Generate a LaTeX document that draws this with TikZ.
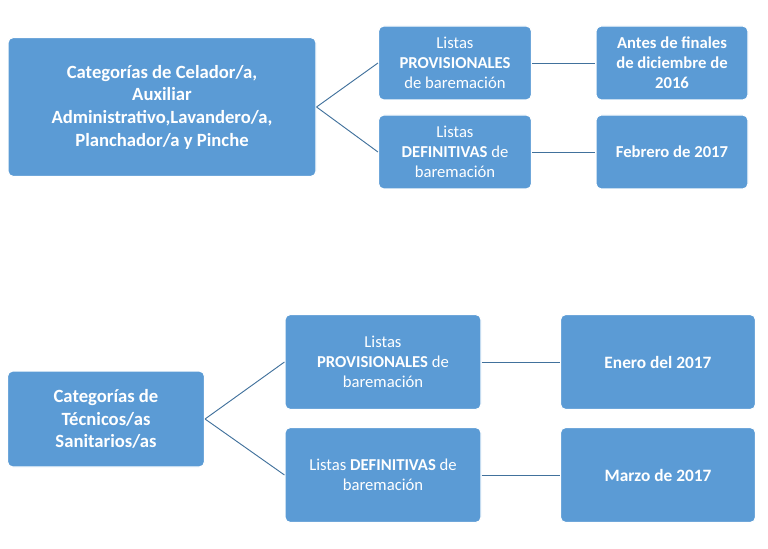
\documentclass[tikz,border=0pt]{standalone}
\usepackage{fontspec}
\setmainfont{Carlito}
\definecolor{boxblue}{HTML}{5B9BD5}
\definecolor{lineblue}{HTML}{41719C}
\begin{document}
\begin{tikzpicture}[x=0.75pt,y=-0.75pt,
    box/.style={draw=white,line width=0.8pt,fill=boxblue,rounded corners=4pt,text=white,align=center,inner sep=2pt},
    big/.style={box,font=\fontsize{14}{17}\selectfont\bfseries},
    small/.style={box,font=\fontsize{12.5}{15}\selectfont},
    link/.style={draw=lineblue,line width=0.7pt}]
  \useasboundingbox (0,0) rectangle (768,549);
  % top group
  \node[big,minimum width=308*0.75pt,minimum height=139*0.75pt] (celador) at (162,107)
    {Categorías de Celador/a,\\Auxiliar\\Administrativo,Lavandero/a,\\Planchador/a y Pinche};
  \node[small,minimum width=153*0.75pt,minimum height=74*0.75pt] (provA) at (455,63)
    {Listas\\\textbf{PROVISIONALES}\\de baremación};
  \node[small,minimum width=153*0.75pt,minimum height=74*0.75pt] (defA) at (455,152)
    {Listas\\\textbf{DEFINITIVAS} de\\baremación};
  \node[small,font=\fontsize{12.5}{15}\selectfont\bfseries,minimum width=152*0.75pt,minimum height=74*0.75pt] (fechaA) at (672,63)
    {Antes de finales\\de diciembre de\\2016};
  \node[small,font=\fontsize{12.5}{15}\selectfont\bfseries,minimum width=152*0.75pt,minimum height=74*0.75pt] (fechaB) at (672,152)
    {Febrero de 2017};
  % bottom group
  \node[big,minimum width=197*0.75pt,minimum height=96*0.75pt] (tecnicos) at (106,419)
    {Categorías de\\Técnicos/as\\Sanitarios/as};
  \node[small,minimum width=196*0.75pt,minimum height=95*0.75pt] (provB) at (383,362)
    {Listas\\\textbf{PROVISIONALES} de\\baremación};
  \node[small,minimum width=196*0.75pt,minimum height=95*0.75pt] (defB) at (383,475)
    {Listas \textbf{DEFINITIVAS} de\\baremación};
  \node[big,font=\fontsize{13}{16}\selectfont\bfseries,minimum width=195*0.75pt,minimum height=95*0.75pt] (fechaC) at (658,362)
    {Enero del 2017};
  \node[big,font=\fontsize{13}{16}\selectfont\bfseries,minimum width=195*0.75pt,minimum height=95*0.75pt] (fechaD) at (658,475)
    {Marzo de 2017};
  \path[link] (celador.east) -- (provA.west);
  \path[link] (celador.east) -- (defA.west);
  \path[link] (provA.east) -- (fechaA.west);
  \path[link] (defA.east) -- (fechaB.west);
  \path[link] (tecnicos.east) -- (provB.west);
  \path[link] (tecnicos.east) -- (defB.west);
  \path[link] (provB.east) -- (fechaC.west);
  \path[link] (defB.east) -- (fechaD.west);
\end{tikzpicture}
\end{document}
